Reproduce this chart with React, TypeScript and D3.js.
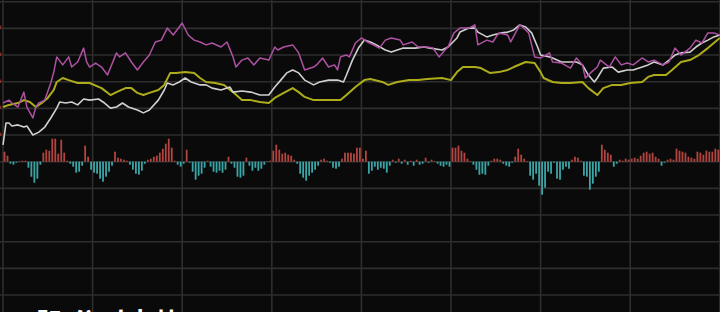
import React from 'react';
import * as d3 from 'd3';

const W = 720;
const H = 312;
const TOTAL_MINUTES = 240;

// grid levels (percent change), one horizontal line per level
const gridLevels = [6, 5, 4, 3, 2, 1, 0, -1, -2, -3, -4, -5];
// time ticks every 30 minutes
const timeTicks = [0, 30, 60, 90, 120, 150, 180, 210, 240];

// index line (purple)
const indexT = [0, 2, 3, 5, 7, 8, 10, 11, 12, 14, 16, 17, 18, 20, 22, 23, 25, 27, 28, 29, 31, 33, 35, 38, 39, 41, 43, 45, 47, 49, 51, 53, 55, 57, 60, 62, 64, 66, 68, 70, 73, 75, 77, 78, 80, 82, 84, 86, 89, 91, 92, 94, 97, 99, 101, 104, 105, 107, 109, 111, 112, 113, 115, 116, 118, 120, 122, 124, 126, 128, 130, 133, 134, 137, 139, 142, 144, 146, 148, 149, 151, 153, 156, 158, 159, 162, 164, 166, 169, 170, 173, 174, 176, 178, 180, 183, 184, 187, 190, 192, 194, 195, 197, 199, 200, 203, 205, 207, 209, 211, 214, 216, 218, 221, 223, 225, 227, 230, 232, 234, 236, 238, 240];
const indexV = [2.2, 2.31, 2.2, 2.05, 2.61, 2.05, 1.64, 2.05, 2.2, 2.31, 2.95, 3.36, 3.93, 3.63, 3.93, 3.55, 3.74, 4.26, 3.74, 3.55, 3.7, 3.55, 3.25, 4.08, 3.93, 4.08, 3.74, 3.44, 3.74, 4.0, 4.49, 4.56, 5.01, 4.75, 5.2, 4.75, 4.56, 4.49, 4.38, 4.45, 4.3, 4.49, 3.93, 3.55, 3.81, 3.89, 3.63, 3.89, 3.81, 4.3, 4.19, 4.3, 4.38, 4.08, 3.44, 3.55, 3.63, 3.89, 3.55, 3.63, 3.44, 3.93, 4.0, 3.93, 4.45, 4.64, 4.49, 4.38, 4.26, 4.56, 4.64, 4.56, 4.38, 4.49, 4.3, 4.3, 4.26, 3.93, 4.19, 4.3, 4.83, 5.01, 5.01, 5.13, 4.38, 4.56, 4.49, 4.83, 4.75, 4.49, 5.13, 5.05, 4.83, 3.93, 3.89, 4.08, 3.74, 3.7, 3.51, 3.89, 3.63, 3.14, 3.36, 3.55, 3.81, 3.55, 3.93, 3.63, 3.7, 3.63, 3.89, 3.74, 3.81, 3.63, 3.74, 4.26, 4.0, 4.26, 4.56, 4.45, 4.83, 4.83, 4.75];

// price line (white)
const priceT = [0, 1, 2, 3, 5, 7, 8, 10, 12, 14, 16, 18, 19, 21, 23, 25, 27, 29, 32, 34, 36, 38, 40, 42, 45, 47, 49, 52, 54, 55, 57, 59, 61, 63, 66, 68, 70, 73, 76, 77, 80, 83, 86, 89, 91, 93, 95, 97, 99, 101, 104, 106, 109, 112, 114, 115, 117, 119, 121, 123, 125, 128, 130, 132, 134, 138, 141, 143, 147, 149, 152, 153, 156, 158, 159, 162, 164, 167, 169, 171, 173, 175, 177, 179, 180, 183, 184, 187, 189, 192, 194, 196, 198, 199, 201, 204, 206, 209, 211, 214, 216, 218, 221, 223, 225, 227, 230, 232, 234, 236, 238, 240];
const priceV = [0.63, 1.45, 1.45, 1.34, 1.38, 1.3, 1.34, 1.0, 1.11, 1.3, 1.64, 2.01, 2.24, 2.2, 2.24, 2.13, 2.35, 2.31, 2.35, 2.2, 2.01, 2.05, 2.2, 2.05, 1.94, 1.83, 1.94, 2.31, 2.69, 2.95, 2.88, 2.99, 3.14, 2.99, 2.88, 2.88, 2.76, 2.69, 2.8, 2.61, 2.65, 2.61, 2.5, 2.5, 2.8, 3.06, 3.33, 3.44, 3.33, 3.06, 2.88, 2.99, 3.06, 3.06, 2.99, 3.25, 3.81, 4.26, 4.56, 4.49, 4.38, 4.19, 4.11, 4.19, 4.26, 4.26, 4.3, 4.26, 4.19, 4.3, 4.64, 4.86, 5.01, 5.01, 4.86, 4.68, 4.75, 4.83, 4.86, 4.94, 5.13, 5.05, 4.83, 4.3, 4.0, 3.93, 3.89, 3.74, 3.74, 3.74, 3.63, 3.25, 2.99, 3.14, 3.51, 3.55, 3.36, 3.44, 3.44, 3.55, 3.63, 3.74, 3.63, 3.81, 4.0, 4.08, 4.11, 4.3, 4.45, 4.56, 4.68, 4.75];

// average price line (yellow)
const avgT = [0, 2, 5, 7, 9, 11, 13, 15, 17, 18, 20, 22, 25, 27, 29, 33, 36, 38, 41, 43, 45, 47, 49, 52, 54, 56, 58, 61, 64, 66, 68, 71, 74, 77, 80, 83, 86, 89, 91, 94, 97, 99, 101, 104, 106, 110, 113, 115, 118, 121, 123, 127, 129, 132, 136, 139, 142, 147, 150, 152, 154, 158, 160, 163, 166, 169, 171, 175, 178, 180, 181, 184, 187, 190, 194, 196, 199, 201, 204, 207, 210, 214, 216, 218, 222, 224, 227, 230, 233, 236, 238, 240];
const avgV = [2.05, 2.13, 2.2, 2.31, 2.24, 2.05, 2.2, 2.39, 2.69, 2.99, 3.14, 3.06, 2.95, 2.95, 2.95, 2.76, 2.5, 2.61, 2.76, 2.76, 2.58, 2.5, 2.58, 2.69, 2.88, 3.33, 3.33, 3.36, 3.33, 3.14, 2.99, 2.95, 2.88, 2.61, 2.31, 2.31, 2.24, 2.2, 2.39, 2.58, 2.76, 2.61, 2.43, 2.31, 2.31, 2.31, 2.31, 2.5, 2.8, 3.06, 3.1, 2.99, 2.88, 2.99, 3.06, 3.06, 3.1, 3.14, 3.06, 3.36, 3.55, 3.55, 3.51, 3.33, 3.36, 3.44, 3.55, 3.74, 3.7, 3.36, 3.14, 2.99, 2.95, 2.95, 2.99, 2.76, 2.5, 2.76, 2.88, 2.88, 2.95, 2.99, 3.18, 3.25, 3.25, 3.44, 3.74, 3.81, 4.0, 4.26, 4.45, 4.64];

// per-minute net flow bars (red up, cyan down)
const flowBars = [10, 6, -2, -3, -1, 0.5, 1, 1, -6, -15, -21, -17, -3, 9, 12, 11, 23, 23, 8, 22, 9, 1, -2, -5, -11, -10, -4, 16, 5, -8, -11, -12, -17, -20, -15, -10, -4, 10, 4, 3, 2, 1, -3, -8, -12, -13, -9, -2, 2, 3, 5, 6, 9, 13, 18, 23, 14, 1, -3, -5, -2, 12, -1, -10, -18, -14, -12, -6, 1, -5, -10, -11, -9, -11, -8, 5, -2, -6, -15, -16, -14, 4, -4, -9, -6, -9, -7, -3, 0.5, 1, 11, 17, 12, 8, 9, 7, 6, 2, -2, -12, -16, -19, -14, -11, -8, -4, 2, 3, 1, -1, -6, -7, -5, 3, 9, 9, 9, 8, 14, 14, 3, 11, -12, -9, -5, -8, -6, -7, -11, -4, 2, -1, 3, -2, 2, -3, 1, -4, 2, -3, -2, 4, -1, 2, 0.5, -2, -4, -5, -3, -5, 14, 14, 16, 11, 9, 3, 0.5, -3, -8, -13, -12, -13, -4, 1, 3, 3, 2, -2, -4, -5, -1, 5, 13, 7, 3, 0.5, -14, -18, -12, -24, -33, -26, -10, -12, -1, -17, -18, -8, -5, -7, 2, 5, 4, 1, -14, -15, -28, -22, -15, -10, 17, 12, 9, 7, -5, -2, 2, 1, 3, 2, 3, 4, 3, 6, 9, 10, 8, 9, 5, 3, -4, -1, 2, 3, 2, 13, 11, 10, 9, 5, 4, 3, 10, 9, 7, 11, 10, 10, 13, 12];

const caption = 'A股 分时走势';

const x = d3.scaleLinear().domain([0, TOTAL_MINUTES]).range([3, 719.8]);
const y = d3.scaleLinear().domain([-5, 6]).range([295.05, 1.7]);
const yBar = d3.scaleLinear().domain([-40, 40]).range([201.7, 121.7]);

function pathOf(ts: number[], vs: number[]) {
  const pts = ts.map((t, i) => [t, vs[i]] as [number, number]);
  return d3
    .line<[number, number]>()
    .x((d) => x(d[0]))
    .y((d) => y(d[1]))
    .curve(d3.curveLinear)(pts) as string;
}

export default function App() {
  const barW = 1.8;
  return (
    <svg
      width={W}
      height={H}
      viewBox={`0 0 ${W} ${H}`}
      style={{ position: 'fixed', left: 0, top: 0, display: 'block', background: '#0a0a0a' }}
    >
      <rect x={0} y={0} width={W} height={H} fill="#0a0a0a" />
      {/* grid */}
      <g>
        {gridLevels.map((v) => (
          <line key={'h' + v} x1={0} x2={W} y1={y(v)} y2={y(v)} stroke="#2e2e2e" strokeWidth={1.6} />
        ))}
        {timeTicks.map((t) => (
          <line key={'v' + t} x1={x(t)} x2={x(t)} y1={0} y2={H} stroke="#2e2e2e" strokeWidth={1.6} />
        ))}
      </g>
      {/* clipped axis labels at left edge */}
      <g fontFamily="DejaVu Sans, sans-serif" fontSize={10} textAnchor="end">
        {gridLevels.filter((v) => v > 0 && v < 6).map((v) => (
          <text key={'l' + v} x={1.6} y={y(v) + 1} fill="#c0392b">
            {v.toFixed(2) + '%'}
          </text>
        ))}
      </g>
      {/* bars */}
      <g>
        {flowBars.map((b, i) => {
          const y0 = yBar(0);
          const y1 = yBar(b);
          return (
            <rect
              key={'b' + i}
              x={x(i + 0.5) - barW / 2}
              y={Math.min(y0, y1)}
              width={barW}
              height={Math.max(0.6, Math.abs(y1 - y0))}
              fill={b >= 0 ? '#b2453f' : '#3aa6a8'}
            />
          );
        })}
      </g>
      {/* lines */}
      <path d={pathOf(avgT, avgV)} fill="none" stroke="#adad1c" strokeWidth={2} strokeLinejoin="round" />
      <path d={pathOf(priceT, priceV)} fill="none" stroke="#d0d0d0" strokeWidth={1.6} strokeLinejoin="round" />
      <path d={pathOf(indexT, indexV)} fill="none" stroke="#ad52a2" strokeWidth={1.5} strokeLinejoin="round" />
      {/* caption, mostly below the bottom edge */}
      <text
        x={18}
        y={334}
        fill="#ffffff"
        fontSize={28}
        fontWeight="bold"
        fontFamily="Noto Sans CJK SC, sans-serif"
      >
        {caption}
      </text>
    </svg>
  );
}
